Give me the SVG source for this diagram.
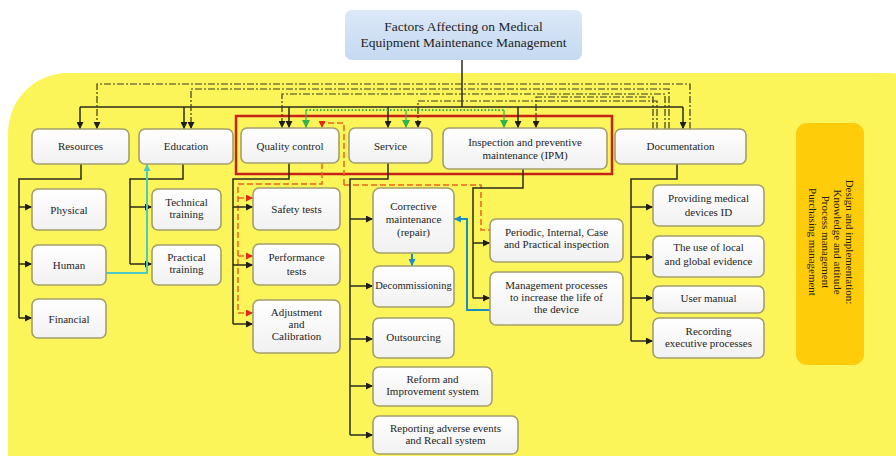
<svg xmlns="http://www.w3.org/2000/svg" width="896" height="456" viewBox="0 0 896 456" font-family="'Liberation Serif', 'Times New Roman', serif">
<style>
  text { font-family: "Liberation Serif", "Times New Roman", serif; fill: #1e1e1e; font-size: 11px; text-anchor: middle; }
  .title { font-size: 13.5px; }
  .side { font-size: 11px; }
  .box { fill: url(#boxg); stroke: #a39e6c; stroke-width: 1.6; }
  .c { fill: none; stroke: #2b2a1c; stroke-width: 1.5; }
  .a { marker-end: url(#ab); }
  .dd { fill: none; stroke: #3a3a22; stroke-width: 1.2; stroke-dasharray: 7 2 2 2; marker-end: url(#ab); }
  .gr { fill: none; stroke: #2fb34a; stroke-width: 2; stroke-dasharray: 1.5 2; }
  .ga { fill: none; stroke: #2fb34a; stroke-width: 1.2; marker-end: url(#ag); }
  .or { fill: none; stroke: #e8641c; stroke-width: 1.5; stroke-dasharray: 6 3; }
  .ora { fill: none; stroke: #e8641c; stroke-width: 1.5; stroke-dasharray: 6 3; marker-end: url(#ar); }
  .bl { fill: none; stroke: #1c8cc4; stroke-width: 2; }
  .cy { fill: none; stroke: #4cc9c4; stroke-width: 2; }
</style>
<defs>
  <linearGradient id="boxg" x1="0" y1="0" x2="0" y2="1">
    <stop offset="0" stop-color="#ffffff"/>
    <stop offset="1" stop-color="#f1f1f1"/>
  </linearGradient>
  <linearGradient id="titleg" x1="0" y1="0" x2="0" y2="1">
    <stop offset="0" stop-color="#dbe8f8"/>
    <stop offset="1" stop-color="#c5d9f1"/>
  </linearGradient>
  <marker id="ab" viewBox="0 0 8 8" refX="8" refY="4" markerWidth="7" markerHeight="7" markerUnits="userSpaceOnUse" orient="auto">
    <path d="M0,0 L8,4 L0,8 z" fill="#1e1e14"/>
  </marker>
  <marker id="ag" viewBox="0 0 8 8" refX="8" refY="4" markerWidth="8" markerHeight="8" markerUnits="userSpaceOnUse" orient="auto">
    <path d="M0,0 L8,4 L0,8 z" fill="#2fb34a"/>
  </marker>
  <marker id="ar" viewBox="0 0 8 8" refX="8" refY="4" markerWidth="7" markerHeight="7" markerUnits="userSpaceOnUse" orient="auto">
    <path d="M0,0 L8,4 L0,8 z" fill="#e02a18"/>
  </marker>
  <marker id="abl" viewBox="0 0 8 8" refX="8" refY="4" markerWidth="7" markerHeight="7" markerUnits="userSpaceOnUse" orient="auto">
    <path d="M0,0 L8,4 L0,8 z" fill="#1c8cc4"/>
  </marker>
  <marker id="acy" viewBox="0 0 8 8" refX="8" refY="4" markerWidth="7" markerHeight="7" markerUnits="userSpaceOnUse" orient="auto">
    <path d="M0,0 L8,4 L0,8 z" fill="#4cc9c4"/>
  </marker>
</defs>

<rect x="0" y="0" width="896" height="456" fill="#ffffff"/>
<rect id="background" x="8" y="73" width="940" height="440" rx="60" ry="60" fill="#fcf55a"/>

<g id="title">
  <rect x="345" y="10" width="237" height="50" rx="7" fill="url(#titleg)"/>
  <text class="title" x="463.5" y="31">Factors Affecting on Medical</text>
  <text class="title" x="463.5" y="47">Equipment Maintenance Management</text>
</g>

<g id="highlight">
  <rect x="236" y="116" width="376" height="58" fill="none" stroke="#c62318" stroke-width="2.5"/>
</g>

<g id="connectors">
  <path class="c" d="M462,60 V107"/>
  <path class="c" d="M80,107 H683"/>
  <path class="c a" d="M80,107 V129"/>
  <path class="c a" d="M184,107 V129"/>
  <path class="c a" d="M289,107 V128"/>
  <path class="c a" d="M388,107 V128"/>
  <path class="c a" d="M518,107 V128"/>
  <path class="c a" d="M683,107 V129"/>
  <path class="dd" d="M690,129 V84 H97 V129"/>
  <path class="dd" d="M669,129 V89 H191 V129"/>
  <path class="dd" d="M665,129 V94 H282 V128"/>
  <path class="dd" d="M657,129 V101 H418 V128"/>
  <path class="dd" d="M653,129 V97 H536 V128"/>
  <path class="gr" d="M306,110 H504"/>
  <path class="ga" d="M306,110 V128"/>
  <path class="ga" d="M406,110 V128"/>
  <path class="ga" d="M504,110 V128"/>
  <path class="ora" d="M344,185 V123 H322 V128"/>
  <path class="or" d="M344,185 H481 V230 H490"/>
  <path class="or" d="M322,163 V184 H238 V313"/>
  <path class="ora" d="M238,198 H253"/>
  <path class="ora" d="M238,256 H253"/>
  <path class="ora" d="M238,313 H253"/>
  <path class="c" d="M81,164 V179 H19 V318"/>
  <path class="c a" d="M19,207 H32"/>
  <path class="c a" d="M19,264 H32"/>
  <path class="c a" d="M19,318 H32"/>
  <path class="c" d="M183,164 V179 H130 V264"/>
  <path class="c a" d="M130,207 H152"/>
  <path class="c a" d="M130,264 H152"/>
  <path class="c" d="M289,163 V179 H233 V324"/>
  <path class="c a" d="M233,207 H253"/>
  <path class="c a" d="M233,265 H253"/>
  <path class="c a" d="M233,324 H253"/>
  <path class="c" d="M388,163 V179 H350 V435"/>
  <path class="c a" d="M350,219 H373"/>
  <path class="c a" d="M350,286 H373"/>
  <path class="c a" d="M350,339 H373"/>
  <path class="c a" d="M350,386 H373"/>
  <path class="c a" d="M350,435 H373"/>
  <path class="c" d="M523,169 V188 H473 V298"/>
  <path class="c a" d="M473,243 H490"/>
  <path class="c a" d="M473,298 H490"/>
  <path class="c" d="M677,164 V179 H631 V341"/>
  <path class="c a" d="M631,207 H653"/>
  <path class="c a" d="M631,257 H653"/>
  <path class="c a" d="M631,298 H653"/>
  <path class="c a" d="M631,341 H653"/>
  <path class="bl" d="M490,310 H467 V219 H454" marker-end="url(#abl)"/>
  <path class="bl" d="M412,254 V266" marker-end="url(#abl)"/>
  <path class="cy" d="M106,273 H147 V164" marker-end="url(#acy)"/>
</g>

<g id="resources"><rect class="box" x="32" y="129" width="97" height="35" rx="6"/><text x="80.5" y="150">Resources</text></g>
<g id="education"><rect class="box" x="139" y="129" width="94" height="35" rx="6"/><text x="186" y="150">Education</text></g>
<g id="quality-control"><rect class="box" x="241" y="128" width="98" height="35" rx="6"/><text x="290" y="149.5">Quality control</text></g>
<g id="service"><rect class="box" x="349" y="128" width="83" height="35" rx="6"/><text x="390.5" y="149.5">Service</text></g>
<g id="ipm"><rect class="box" x="443" y="128" width="164" height="41" rx="6"/><text x="525" y="146">Inspection and preventive</text><text x="525" y="159">maintenance (IPM)</text></g>
<g id="documentation"><rect class="box" x="615" y="129" width="131" height="35" rx="6"/><text x="680.5" y="150">Documentation</text></g>

<g id="physical"><rect class="box" x="32" y="189" width="74" height="41" rx="6"/><text x="69" y="213.5">Physical</text></g>
<g id="human"><rect class="box" x="32" y="245" width="74" height="40" rx="6"/><text x="69" y="269">Human</text></g>
<g id="financial"><rect class="box" x="32" y="299" width="74" height="39" rx="6"/><text x="69" y="322.5">Financial</text></g>

<g id="technical-training"><rect class="box" x="152" y="189" width="69" height="41" rx="6"/><text x="186.5" y="206">Technical</text><text x="186.5" y="218">training</text></g>
<g id="practical-training"><rect class="box" x="152" y="245" width="69" height="40" rx="6"/><text x="186.5" y="261">Practical</text><text x="186.5" y="273">training</text></g>

<g id="safety-tests"><rect class="box" x="253" y="188" width="87" height="42" rx="6"/><text x="296.5" y="213">Safety tests</text></g>
<g id="performance-tests"><rect class="box" x="253" y="244" width="87" height="41" rx="6"/><text x="296.5" y="261">Performance</text><text x="296.5" y="275">tests</text></g>
<g id="adjustment"><rect class="box" x="253" y="300" width="87" height="53" rx="6"/><text x="296.5" y="316">Adjustment</text><text x="296.5" y="328">and</text><text x="296.5" y="340">Calibration</text></g>

<g id="corrective"><rect class="box" x="373" y="188" width="81" height="65" rx="7"/><text x="413.5" y="210">Corrective</text><text x="413.5" y="223">maintenance</text><text x="413.5" y="236">(repair)</text></g>
<g id="decommissioning"><rect class="box" x="373" y="266" width="81" height="41" rx="6"/><text x="413.5" y="289" style="font-size:10.5px">Decommissioning</text></g>
<g id="outsourcing"><rect class="box" x="373" y="318" width="81" height="40" rx="6"/><text x="413.5" y="341">Outsourcing</text></g>
<g id="reform"><rect class="box" x="373" y="367" width="119" height="39" rx="6"/><text x="432.5" y="383">Reform and</text><text x="432.5" y="395">Improvement system</text></g>
<g id="reporting"><rect class="box" x="373" y="416" width="145" height="38" rx="6"/><text x="445.5" y="432">Reporting adverse events</text><text x="445.5" y="444">and Recall system</text></g>

<g id="periodic"><rect class="box" x="490" y="219" width="133" height="43" rx="6"/><text x="556.5" y="236">Periodic, Internal, Case</text><text x="556.5" y="248">and Practical inspection</text></g>
<g id="management"><rect class="box" x="490" y="272" width="133" height="53" rx="6"/><text x="556.5" y="289">Management processes</text><text x="556.5" y="301">to increase the life of</text><text x="556.5" y="313">the device</text></g>

<g id="providing"><rect class="box" x="653" y="185" width="111" height="41" rx="6"/><text x="708.5" y="202">Providing medical</text><text x="708.5" y="216">devices ID</text></g>
<g id="evidence"><rect class="box" x="653" y="236" width="111" height="41" rx="6"/><text x="708.5" y="251">The use of local</text><text x="708.5" y="265">and global evidence</text></g>
<g id="user-manual"><rect class="box" x="653" y="286" width="111" height="27" rx="6"/><text x="708.5" y="302">User manual</text></g>
<g id="recording"><rect class="box" x="653" y="318" width="111" height="40" rx="6"/><text x="708.5" y="335">Recording</text><text x="708.5" y="347">executive processes</text></g>

<g id="design-implementation">
  <rect x="796" y="123" width="68" height="242" rx="11" fill="#ffcc0a"/>
  <text class="side" transform="translate(846,242) rotate(90)">Design and implementation:</text>
  <text class="side" transform="translate(834,242) rotate(90)">Knowledge and attitude</text>
  <text class="side" transform="translate(822,242) rotate(90)">Process management</text>
  <text class="side" transform="translate(809,242) rotate(90)">Purchasing management</text>
</g>
</svg>
